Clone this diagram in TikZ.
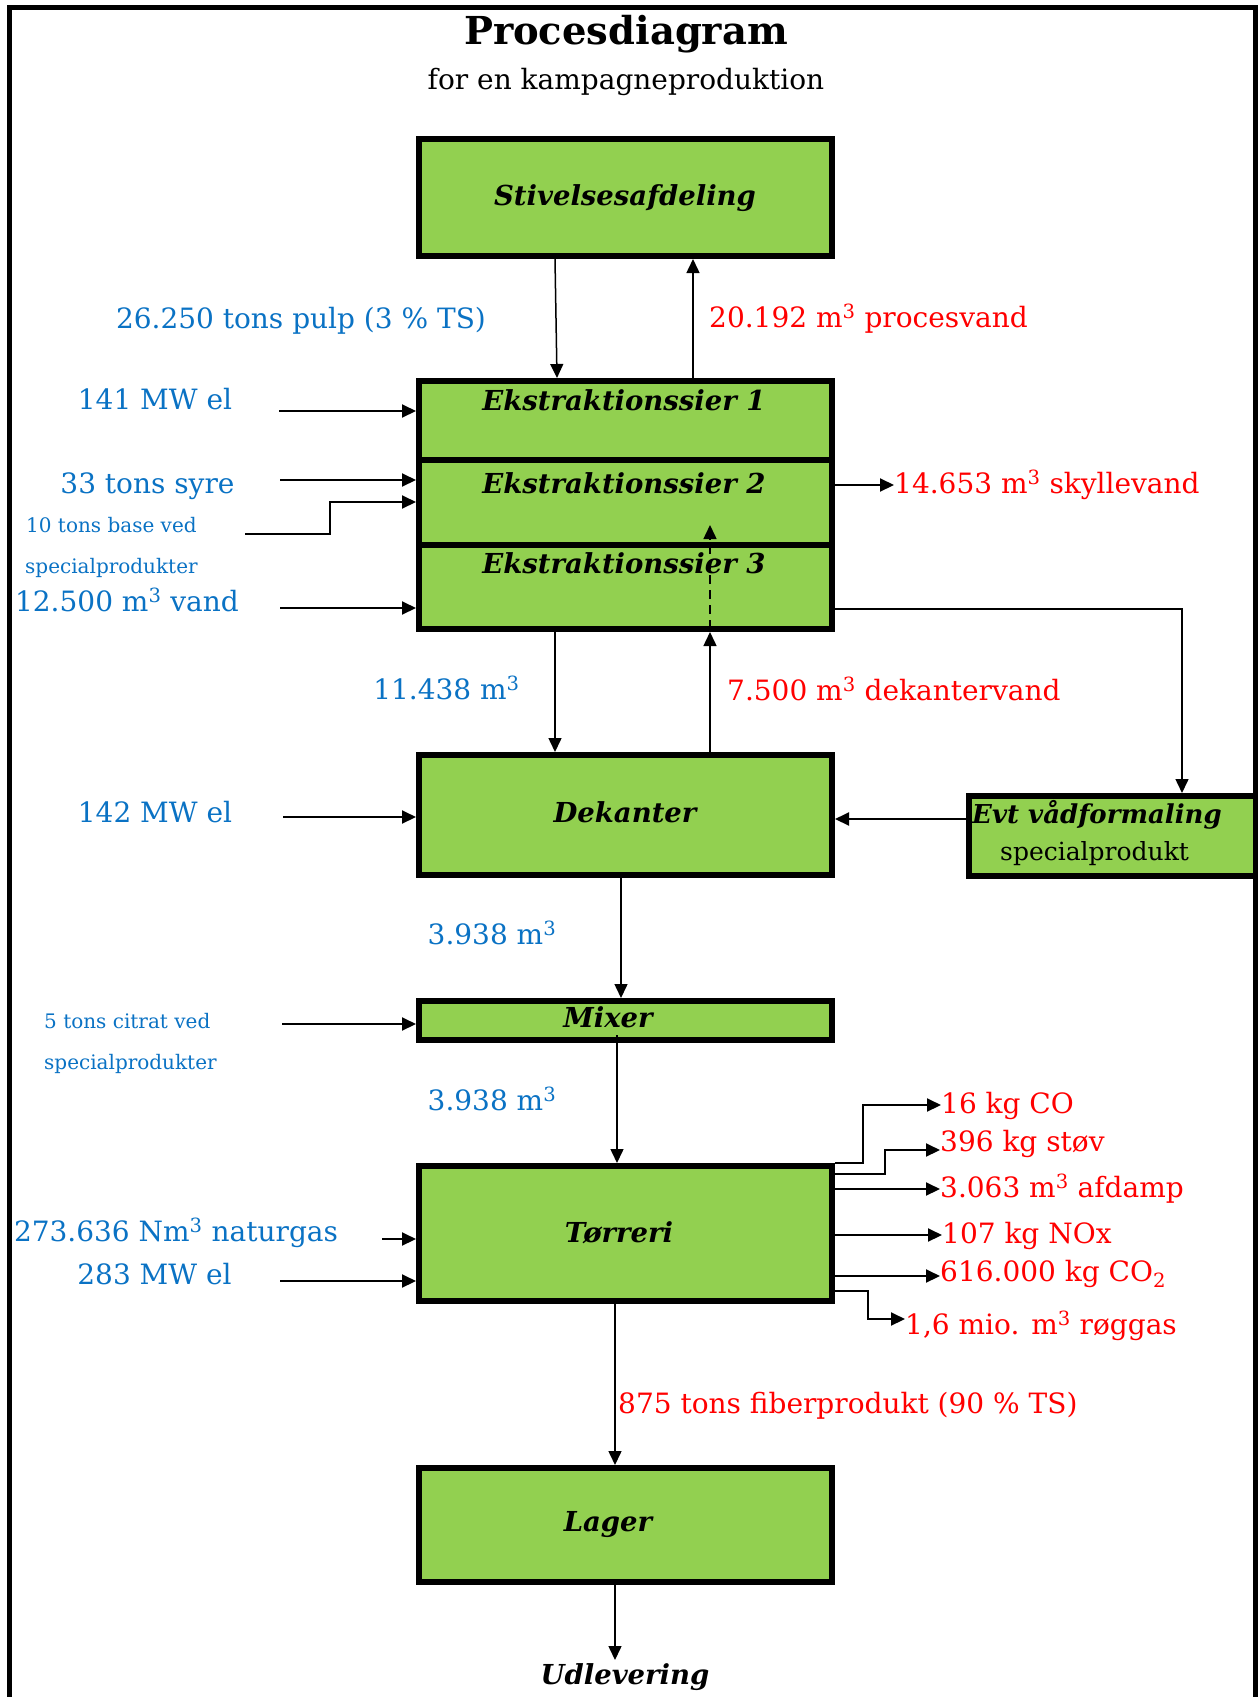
\documentclass[tikz,border=0pt]{standalone}
\usepackage{fontspec}
\setmainfont{DejaVu Serif}
\usetikzlibrary{arrows.meta}
\definecolor{boxgreen}{HTML}{92D050}
\definecolor{lblue}{HTML}{0A72C4}
\definecolor{lred}{HTML}{FF0000}
\begin{document}
\begin{tikzpicture}[x=1pt,y=-1pt,
  box/.style={draw=black,line width=6pt,fill=boxgreen,minimum width=413pt,inner sep=0pt},
  bt/.style={font=\fontsize{27.5}{29}\selectfont\bfseries\itshape,inner sep=0pt,text height=20pt,text depth=3pt},
  bl/.style={text=lblue,font=\fontsize{28}{30}\selectfont,inner sep=0pt,text height=20pt,text depth=3pt},
  bls/.style={text=lblue,font=\fontsize{20}{22}\selectfont,inner sep=0pt,text height=14pt,text depth=2pt},
  rd/.style={text=lred,font=\fontsize{28}{30}\selectfont,inner sep=0pt,text height=20pt,text depth=3pt},
  arr/.style={-{Triangle[length=14pt,width=13pt]},line width=2pt},
  varr/.style={-{Triangle[length=14pt,width=13pt]},line width=1.5pt},
]
\useasboundingbox (0,0) rectangle (1258,1697);
% frame
\draw[line width=5pt] (9,1720) -- (9,7) -- (1255,7) -- (1255,1720);

% title
\node[inner sep=0pt,font=\fontsize{38.5}{41}\selectfont\bfseries,text height=27pt,text depth=4pt] (title) at (626,33) {Procesdiagram};
\node[inner sep=0pt,font=\fontsize{28}{30}\selectfont,text height=20pt,text depth=3pt] (subtitle) at (626,81) {for en kampagneproduktion};

% boxes
\node[box,minimum height=117pt] (stiv) at (625.5,197.5) {};
\node[box,minimum height=78.5pt] (ek1) at (625.5,420.25) {};
\node[box,minimum height=85pt] (ek2) at (625.5,502) {};
\node[box,minimum height=84.5pt] (ek3) at (625.5,586.75) {};
\node[box,minimum height=120pt] (dek) at (625.5,815) {};
\node[box,minimum height=39pt] (mix) at (625.5,1020.5) {};
\node[box,minimum height=135pt] (tor) at (625.5,1233.5) {};
\node[box,minimum height=114pt] (lag) at (625.5,1525) {};
\node[box,minimum width=287pt,minimum height=80pt] (evt) at (1112.5,836) {};

% box texts
\node[bt] (stivT) at (625,197) {Stivelsesafdeling};
\node[bt] (ek1T) at (624,402) {Ekstraktionssier 1};
\node[bt] (ek2T) at (624,485) {Ekstraktionssier 2};
\node[bt] (ek3T) at (624,565) {Ekstraktionssier 3};
\node[bt] (dekT) at (625,814) {Dekanter};
\node[bt] (mixT) at (608,1019) {Mixer};
\node[bt] (torT) at (619,1234) {Tørreri};
\node[bt] (lagT) at (608,1523) {Lager};
\node[bt,anchor=west,font=\fontsize{26}{28}\selectfont\bfseries\itshape] (evtT) at (972,815) {Evt vådformaling};
\node[inner sep=0pt,font=\fontsize{25}{27}\selectfont,text height=18pt,text depth=3pt,anchor=west] (evtS) at (1000,853) {specialprodukt};
\node[bt,anchor=north] (udl) at (625,1664) {Udlevering};

% blue labels
\node[bl] (pulp) at (301,320) {26.250 tons pulp (3 \% TS)};
\node[bl] (mw1) at (155,401) {141 MW el};
\node[bl] (syre) at (147.5,485) {33 tons syre};
\node[bls,anchor=west] (base) at (26,526) {10 tons base ved};
\node[bls,anchor=west] (spec1) at (25,567) {specialprodukter};
\node[bl] (vand) at (127,603) {12.500 m\textsuperscript{3} vand};
\node[bl] (m11) at (446.5,691) {11.438 m\textsuperscript{3}};
\node[bl] (mw2) at (155,814) {142 MW el};
\node[bl] (m39a) at (492,936) {3.938 m\textsuperscript{3}};
\node[bls,anchor=west] (citrat) at (44,1022) {5 tons citrat ved};
\node[bls,anchor=west] (spec2) at (44,1063) {specialprodukter};
\node[bl] (m39b) at (492,1102) {3.938 m\textsuperscript{3}};
\node[bl] (gas) at (176,1233) {273.636 Nm\textsuperscript{3} naturgas};
\node[bl] (mw3) at (154.5,1276) {283 MW el};

% red labels
\node[rd,anchor=west] (proc) at (709,319) {20.192 m\textsuperscript{3} procesvand};
\node[rd,anchor=west] (skyl) at (894,485) {14.653 m\textsuperscript{3} skyllevand};
\node[rd,anchor=west] (dekv) at (727,692) {7.500 m\textsuperscript{3} dekantervand};
\node[rd,anchor=west] (co) at (941,1105) {16 kg CO};
\node[rd,anchor=west] (stov) at (940,1143) {396 kg støv};
\node[rd,anchor=west] (afd) at (940,1189) {3.063 m\textsuperscript{3} afdamp};
\node[rd,anchor=west] (nox) at (942,1235) {107 kg NOx};
\node[rd,anchor=west] (co2) at (940,1273) {616.000 kg CO\textsubscript{2}};
\node[rd,anchor=west] (rog) at (905,1326) {1,6 mio. m\textsuperscript{3} røggas};
\node[rd,anchor=west] (fib) at (618,1405) {875 tons fiberprodukt (90 \% TS)};

% input arrows (left)
\coordinate (s1) at (279,411);
\coordinate (s2) at (280,480);
\coordinate (s3) at (245,534);
\coordinate (s4) at (280,608);
\coordinate (s5) at (283,817);
\coordinate (s6) at (282,1024);
\coordinate (s7) at (382,1239);
\coordinate (s8) at (280,1281);
\draw[arr] (s1) -- (s1 -| ek1.west);
\draw[arr] (s2) -- (s2 -| ek2.west);
\draw[arr] (s3) -- ++(85,0) |- (ek2.west);
\draw[arr] (s4) -- (s4 -| ek3.west);
\draw[arr] (s5) -- (s5 -| dek.west);
\draw[arr] (s6) -- (s6 -| mix.west);
\draw[arr] (s7) -- (s7 -| tor.west);
\draw[arr] (s8) -- (s8 -| tor.west);

% vertical main flow
\draw[varr] ([xshift=-70.5pt]stiv.south) -- ([xshift=-68.5pt]ek1.north);
\draw[varr] ([xshift=67.5pt]ek1.north) -- ([xshift=67.5pt]stiv.south);
\draw[varr] ([xshift=-70.5pt]ek3.south) -- ([xshift=-70.5pt]dek.north);
\draw[varr] ([xshift=84.5pt]dek.north) -- ([xshift=84.5pt]ek3.south);
\draw[varr,dash pattern=on 9pt off 6pt] ([xshift=84.5pt,yshift=3pt]ek3.south) -- ([xshift=84.5pt,yshift=22.5pt]ek2.south);
\draw[varr] ([xshift=-4.5pt,yshift=4pt]dek.south) -- ([xshift=-4.5pt]mix.north);
\draw[varr] ([xshift=-8.5pt,yshift=8pt]mix.south) -- ([xshift=-8.5pt]tor.north);
\draw[varr] ([xshift=-10.5pt,yshift=4pt]tor.south) -- ([xshift=-10.5pt]lag.north);
\draw[varr] ([xshift=-10.5pt,yshift=4pt]lag.south) -- ([xshift=-10pt,yshift=4pt]udl.north);

% right side
\draw[arr] (ek2.east |- skyl.west) -- (skyl.west);
\draw[varr] ([yshift=-22pt]ek3.east) -| ([xshift=69.5pt]evt.north);
\draw[arr] ([yshift=17pt]evt.west) -- ([yshift=-4pt]dek.east);

% dryer outputs
\coordinate (stovA) at ([yshift=-7pt]stov.west);
\coordinate (co2A) at ([yshift=-3pt]co2.west);
\coordinate (rogA) at ([yshift=7pt]rog.west);
\draw[arr] (tor.north east) -- ++(28,0) |- (co.west);
\draw[arr] ([yshift=-11pt]tor.north east) -- ++(50,0) |- (stovA);
\draw[arr] (tor.east |- afd.west) -- (afd.west);
\draw[arr] (tor.east |- nox.west) -- (nox.west);
\draw[arr] (tor.east |- co2A) -- (co2A);
\draw[arr] ([yshift=13pt]tor.south east) -- ++(33,0) |- (rogA);
\end{tikzpicture}
\end{document}
